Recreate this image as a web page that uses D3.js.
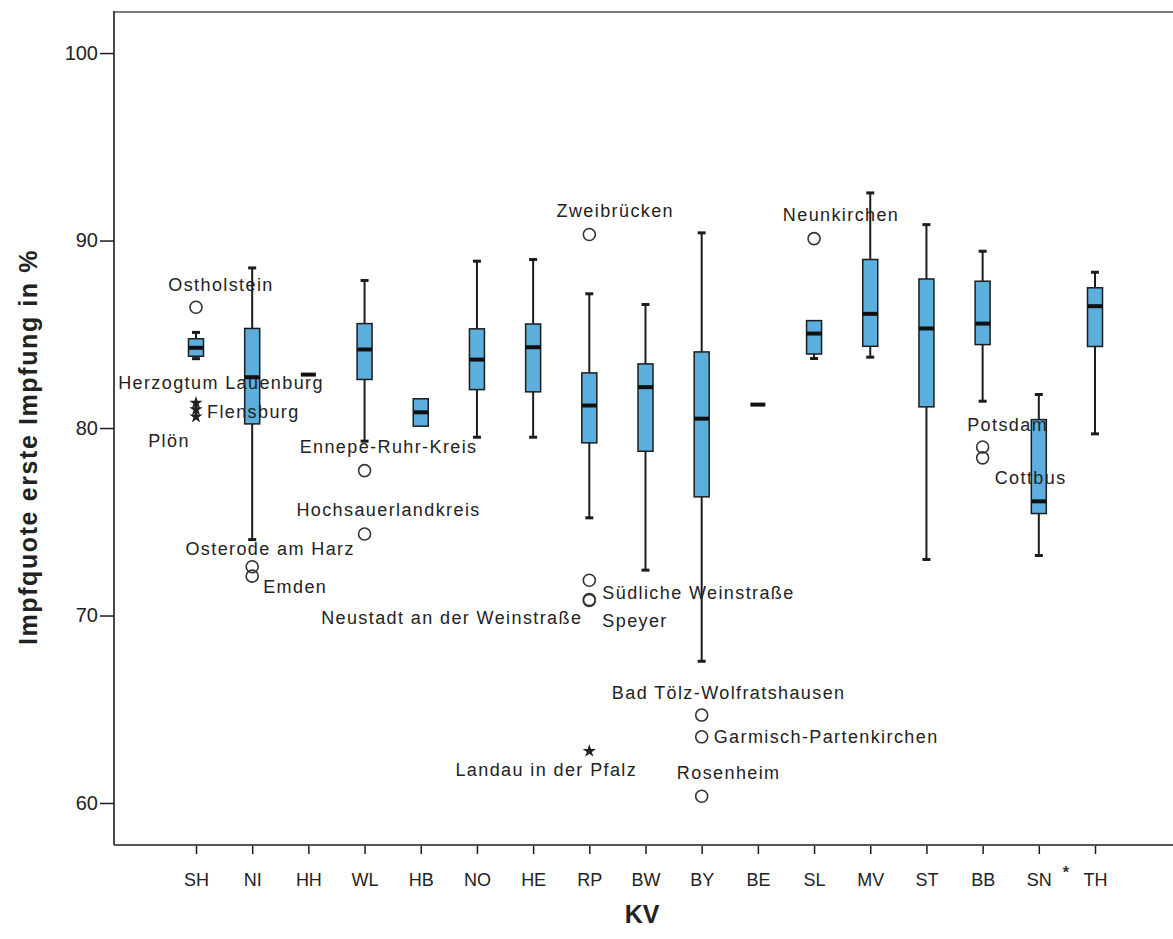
<!DOCTYPE html>
<html>
<head>
<meta charset="utf-8">
<script src="https://cdn.jsdelivr.net/npm/d3@7/dist/d3.min.js"></script>
<style>
  html, body { margin: 0; padding: 0; background: #fff; }
  svg { display: block; font-family: "Liberation Sans", Arial, sans-serif; }
</style>
</head>
<body>
<svg id="chart" width="1173" height="939"></svg>
<script>
// ---------------- DATA ----------------
const categories = ["SH","NI","HH","WL","HB","NO","HE","RP","BW","BY","BE","SL","MV","ST","BB","SN","TH"];
const whiskerLow  = [83.70, 74.05, 82.85, 79.30, 80.10, 79.51, 79.51, 75.21, 72.42, 67.56, 81.25, 83.71, 83.78, 72.99, 81.43, 73.20, 79.69];
const q1          = [83.83, 80.22, 82.85, 82.59, 80.10, 82.05, 81.93, 79.21, 78.76, 76.33, 81.25, 83.95, 84.36, 81.13, 84.45, 75.44, 84.35];
const medians     = [84.28, 82.71, 82.85, 84.19, 80.84, 83.65, 84.31, 81.20, 82.18, 80.50, 81.25, 85.04, 86.09, 85.31, 85.57, 76.09, 86.50];
const q3          = [84.76, 85.31, 82.85, 85.57, 81.56, 85.29, 85.55, 82.94, 83.42, 84.06, 81.25, 85.73, 88.99, 87.95, 87.83, 80.45, 87.48];
const whiskerHigh = [85.10, 88.54, 82.85, 87.87, 81.56, 88.90, 88.99, 87.16, 86.59, 90.41, 81.25, 85.73, 92.54, 90.85, 89.43, 81.79, 88.31];

const outlierNames  = ["Ostholstein","Herzogtum Lauenburg","Flensburg","Plön","Osterode am Harz","Emden",
                       "Ennepe-Ruhr-Kreis","Hochsauerlandkreis","Zweibrücken","Südliche Weinstraße","Speyer",
                       "Neustadt an der Weinstraße","Landau in der Pfalz","Bad Tölz-Wolfratshausen",
                       "Garmisch-Partenkirchen","Rosenheim","Neunkirchen","Potsdam","Cottbus"];
const outlierCats   = ["SH","SH","SH","SH","NI","NI","WL","WL","RP","RP","RP","RP","RP","BY","BY","BY","SL","BB","BB"];
const outlierValues = [86.44, 81.34, 80.99, 80.60, 72.60, 72.10, 77.73, 74.35, 90.32, 71.88, 70.85, 70.80, 62.77, 64.69, 63.53, 60.36, 90.10, 78.99, 78.41];
const outlierKinds  = ["circle","star","star","star","circle","circle","circle","circle","circle","circle","circle",
                       "circle","star","circle","circle","circle","circle","circle","circle"];

const yTicks = [60, 70, 80, 90, 100];
const yTitle = "Impfquote erste Impfung in %";
const xTitle = "KV";

// ---------------- LAYOUT ----------------
const W = 1173, H = 939;
const plot = { left: 114, top: 12, right: 1173, bottom: 845 };
const svg = d3.select("#chart");

const x = d3.scalePoint().domain(categories).range([196, 1095]);
const y = d3.scaleLinear().domain([57.76, 102.19]).range([plot.bottom, plot.top]);

const boxW = 15, capW = 8;
const boxFill = "#5cafdc", dark = "#1c1c1c";

// Label placement relative to each point (anchor, dx, dy of text centre)
const labelPlacement = {
  "Ostholstein": ["middle", 25, -22],
  "Herzogtum Lauenburg": ["middle", 25, -20],
  "Flensburg": ["start", 11, 3],
  "Plön": ["middle", -27, 24],
  "Osterode am Harz": ["middle", 18, -18],
  "Emden": ["start", 11, 11],
  "Ennepe-Ruhr-Kreis": ["middle", 24, -24],
  "Hochsauerlandkreis": ["middle", 24, -24],
  "Zweibrücken": ["middle", 26, -24],
  "Südliche Weinstraße": ["start", 13, 13],
  "Speyer": ["start", 13, 21],
  "Neustadt an der Weinstraße": ["end", -7, 17],
  "Landau in der Pfalz": ["middle", -43, 19],
  "Bad Tölz-Wolfratshausen": ["middle", 27, -22],
  "Garmisch-Partenkirchen": ["start", 12, 0],
  "Rosenheim": ["middle", 27, -23],
  "Neunkirchen": ["middle", 27, -24],
  "Potsdam": ["middle", 25, -22],
  "Cottbus": ["middle", 48, 20]
};

// ---------------- AXES / FRAME ----------------
svg.append("line").attr("x1", plot.left).attr("x2", plot.right)
  .attr("y1", plot.top).attr("y2", plot.top)
  .attr("stroke", "#7a7a7a").attr("stroke-width", 2);

const yAxis = d3.axisLeft(y).tickValues(yTicks).tickSize(14).tickPadding(2).tickFormat(d3.format("d"));
const gy = svg.append("g").attr("transform", `translate(${plot.left},0)`).call(yAxis);
gy.select(".domain").remove();
gy.selectAll(".tick line").attr("stroke", dark).attr("stroke-width", 1.5);
gy.selectAll(".tick text").attr("font-size", 20).attr("fill", "#222")
  .attr("font-family", "'Liberation Sans', Arial, sans-serif");
svg.append("line").attr("x1", plot.left).attr("x2", plot.left)
  .attr("y1", plot.top - 1).attr("y2", plot.bottom)
  .attr("stroke", dark).attr("stroke-width", 1.6);

const xAxis = d3.axisBottom(x).tickSize(9).tickPadding(19);
const gx = svg.append("g").attr("transform", `translate(0,${plot.bottom})`).call(xAxis);
gx.select(".domain").remove();
gx.selectAll(".tick line").attr("stroke", dark).attr("stroke-width", 1.5);
gx.selectAll(".tick text").attr("font-size", 18).attr("fill", "#222")
  .attr("font-family", "'Liberation Sans', Arial, sans-serif");
svg.append("line").attr("x1", plot.left).attr("x2", plot.right)
  .attr("y1", plot.bottom).attr("y2", plot.bottom)
  .attr("stroke", "#555").attr("stroke-width", 2.2);

// small star next to SN tick label
svg.append("text").attr("x", x("SN") + 24).attr("y", plot.bottom + 33)
  .attr("font-size", 16).attr("font-weight", "bold").attr("fill", "#333").text("*");

// axis titles
svg.append("text")
  .attr("transform", `translate(37,${447}) rotate(-90)`)
  .attr("text-anchor", "middle").attr("font-size", 25).attr("font-weight", "bold").attr("fill", "#222")
  .attr("letter-spacing", 1.6)
  .text(yTitle);
svg.append("text").attr("x", 642).attr("y", 923)
  .attr("text-anchor", "middle").attr("font-size", 25).attr("font-weight", "bold").attr("fill", "#222")
  .text(xTitle);

// ---------------- BOXES ----------------
const boxes = categories.map((c, i) => ({
  c, lo: whiskerLow[i], q1: q1[i], med: medians[i], q3: q3[i], hi: whiskerHigh[i]
}));

const gb = svg.append("g");
boxes.forEach(b => {
  const cx = x(b.c);
  const g = gb.append("g");
  if (b.hi > b.q3 + 0.01) {
    g.append("line").attr("x1", cx).attr("x2", cx).attr("y1", y(b.q3)).attr("y2", y(b.hi))
      .attr("stroke", dark).attr("stroke-width", 2);
    g.append("line").attr("x1", cx - capW / 2).attr("x2", cx + capW / 2).attr("y1", y(b.hi)).attr("y2", y(b.hi))
      .attr("stroke", dark).attr("stroke-width", 3);
  }
  if (b.lo < b.q1 - 0.01) {
    g.append("line").attr("x1", cx).attr("x2", cx).attr("y1", y(b.q1)).attr("y2", y(b.lo))
      .attr("stroke", dark).attr("stroke-width", 2);
    g.append("line").attr("x1", cx - capW / 2).attr("x2", cx + capW / 2).attr("y1", y(b.lo)).attr("y2", y(b.lo))
      .attr("stroke", dark).attr("stroke-width", 3);
  }
  if (b.q3 > b.q1) {
    g.append("rect").attr("x", cx - boxW / 2).attr("width", boxW)
      .attr("y", y(b.q3)).attr("height", y(b.q1) - y(b.q3))
      .attr("fill", boxFill).attr("stroke", dark).attr("stroke-width", 1.5);
  }
  g.append("line").attr("x1", cx - boxW / 2).attr("x2", cx + boxW / 2)
    .attr("y1", y(b.med)).attr("y2", y(b.med))
    .attr("stroke", "#111").attr("stroke-width", 4);
});

// ---------------- OUTLIERS ----------------
const outliers = outlierNames.map((n, i) => ({
  name: n, c: outlierCats[i], v: outlierValues[i], kind: outlierKinds[i]
}));
const go = svg.append("g");
const star = d3.symbol().type(d3.symbolStar).size(55);
outliers.forEach(o => {
  const px = x(o.c), py = y(o.v);
  if (o.kind === "circle") {
    go.append("circle").attr("cx", px).attr("cy", py).attr("r", 6)
      .attr("fill", "none").attr("stroke", "#333").attr("stroke-width", 1.6);
  } else {
    go.append("path").attr("d", star).attr("transform", `translate(${px},${py})`)
      .attr("fill", "#222");
  }
  const p = labelPlacement[o.name];
  go.append("text").attr("x", px + p[1]).attr("y", py + p[2])
    .attr("text-anchor", p[0]).attr("dominant-baseline", "central")
    .attr("font-size", 18).attr("letter-spacing", 1.4).attr("fill", "#222").text(o.name);
});
</script>
</body>
</html>
